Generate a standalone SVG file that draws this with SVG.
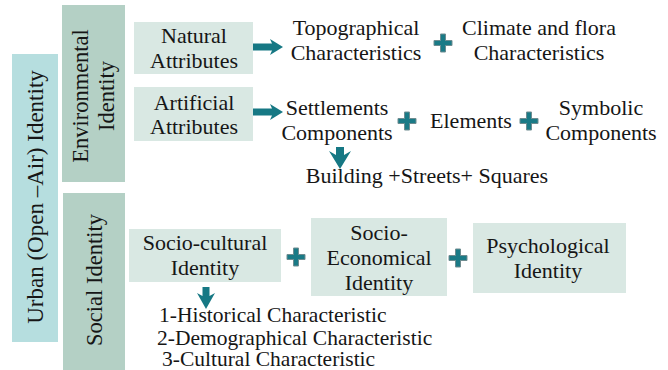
<svg xmlns="http://www.w3.org/2000/svg" width="668" height="370" viewBox="0 0 668 370" font-family="Liberation Serif, serif">
<defs>
<style>
text{font-family:'Liberation Serif',serif;font-size:22px;fill:#161616;text-anchor:middle}
.outer{fill:#b6dedf}
.mid{fill:#b4d0c5}
.inner{fill:#d9e8e3}
.arr{fill:#167884}
.plus{fill:#1a7a86;stroke:#6f8c90;stroke-width:1}
.lst{text-anchor:start;font-size:21.5px}
</style>
<path id="plusShape" d="M-2.5,-9 H2.5 V-2.5 H9 V2.5 H2.5 V9 H-2.5 V2.5 H-9 V-2.5 H-2.5 Z"/>
</defs>
<rect width="668" height="370" fill="#ffffff"/>

<g id="urban">
<rect class="outer" x="12" y="54" width="46" height="288"/>
<text transform="translate(43,197) rotate(-90)" style="font-size:23px">Urban (Open –Air) Identity</text>
</g>

<g id="environmental">
<rect class="mid" x="62" y="5" width="63" height="177"/>
<text transform="translate(88,96) rotate(-90)" style="font-size:22.5px">Environmental</text>
<text transform="translate(114,96) rotate(-90)" style="font-size:22.5px">Identity</text>
</g>

<g id="social">
<rect class="mid" x="63" y="193" width="62" height="177"/>
<text transform="translate(102,280) rotate(-90)" style="font-size:22.5px">Social Identity</text>
</g>

<g id="natural">
<rect class="inner" x="134" y="22" width="119" height="52"/>
<text x="194" y="43">Natural</text>
<text x="194" y="68">Attributes</text>
</g>

<g id="artificial">
<rect class="inner" x="134" y="87" width="119" height="54"/>
<text x="194" y="110">Artificial</text>
<text x="194" y="134">Attributes</text>
</g>

<g id="topographical">
<text x="356" y="35">Topographical</text>
<text x="356" y="60">Characteristics</text>
</g>

<g id="climate">
<text x="539" y="35">Climate and flora</text>
<text x="539" y="60">Characteristics</text>
</g>

<g id="settlements">
<text x="337" y="115">Settlements</text>
<text x="337" y="140">Components</text>
</g>

<g id="elements">
<text x="471" y="128">Elements</text>
</g>

<g id="symbolic">
<text x="601" y="115">Symbolic</text>
<text x="601" y="140">Components</text>
</g>

<g id="building">
<text x="427" y="183">Building +Streets+ Squares</text>
</g>

<g id="sociocultural">
<rect class="inner" x="129" y="229" width="152" height="53"/>
<text x="205" y="250">Socio-cultural</text>
<text x="205" y="275">Identity</text>
</g>

<g id="socioeconomical">
<rect class="inner" x="311" y="218" width="136" height="78"/>
<text x="379" y="240">Socio-</text>
<text x="379" y="265">Economical</text>
<text x="379" y="290">Identity</text>
</g>

<g id="psychological">
<rect class="inner" x="473" y="223" width="153" height="70"/>
<text x="548" y="253">Psychological</text>
<text x="548" y="278">Identity</text>
</g>

<g id="characteristics">
<text class="lst" x="159" y="322">1-Historical Characteristic</text>
<text class="lst" x="157" y="344.5">2-Demographical Characteristic</text>
<text class="lst" x="162" y="366">3-Cultural Characteristic</text>
</g>

<g id="connectors">
<path class="arr" d="M253,43.5 H272 L270,39 L283,47 L270,55 L272,50.5 H253 Z"/>
<path class="arr" d="M253,108.5 H272 L270,104 L283,112 L270,120 L272,115.5 H253 Z"/>
<path class="arr" d="M336,147 H344 V155 L351,151 L340,169 L329,151 L336,155 Z"/>
<path class="arr" d="M202.5,287 H209.5 V296 L215,293 L206,309 L197,293 L202.5,296 Z"/>
<use href="#plusShape" class="plus" transform="translate(443,43)"/>
<use href="#plusShape" class="plus" transform="translate(407,121)"/>
<use href="#plusShape" class="plus" transform="translate(529,121)"/>
<use href="#plusShape" class="plus" transform="translate(296,257)"/>
<use href="#plusShape" class="plus" transform="translate(458,258)"/>
</g>
</svg>
